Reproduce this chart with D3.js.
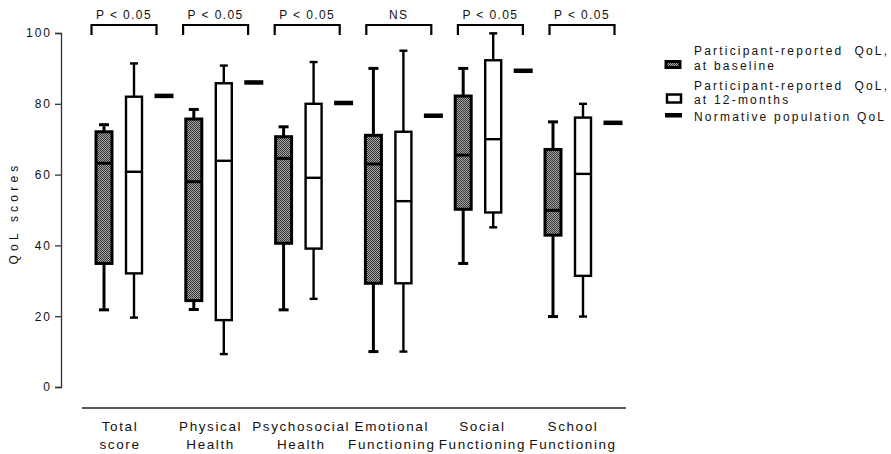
<!DOCTYPE html>
<html>
<head>
<meta charset="utf-8">
<script src="https://cdn.jsdelivr.net/npm/d3@7"></script>
<style>
  body { margin: 0; background: #fff; }
  text { font-family: "Liberation Sans", Arial, sans-serif; fill: #111; }
</style>
</head>
<body>
<svg id="chart" width="891" height="454"></svg>
<script>
// categories, two lines each
var categories = [
    ["Total", "score"],
    ["Physical", "Health"],
    ["Psychosocial", "Health"],
    ["Emotional", "Functioning"],
    ["Social", "Functioning"],
    ["School", "Functioning"]
];
// baseline box stats
var baseMin = [21.8, 21.9, 21.8, 10.0, 34.9, 19.9];
var baseQ1  = [34.9, 24.4, 40.6, 29.3, 50.2, 42.9];
var baseMed = [63.2, 58.0, 64.6, 63.0, 65.5, 49.9];
var baseQ3  = [72.1, 75.7, 70.7, 71.1, 82.2, 67.1];
var baseMax = [74.1, 78.4, 73.5, 90.0, 90.0, 74.9];
// 12-month box stats
var m12Min = [19.6,  9.3, 24.9, 10.0, 45.1, 19.9];
var m12Q1  = [32.1, 18.9, 39.1, 29.3, 49.3, 31.4];
var m12Med = [60.8, 63.9, 59.1, 52.5, 70.0, 60.2];
var m12Q3  = [82.0, 85.8, 80.0, 72.1, 92.3, 76.1];
var m12Max = [91.4, 90.8, 91.8, 95.0, 99.9, 80.0];
// normative population
var normValues = [82.3, 86.1, 80.3, 76.7, 89.4, 74.7];
var pLabels = ["P < 0.05", "P < 0.05", "P < 0.05", "NS", "P < 0.05", "P < 0.05"];
var yTicks = [0, 20, 40, 60, 80, 100];
var legendLabels = [
    ["Participant-reported  QoL,", "at baseline"],
    ["Participant-reported  QoL,", "at 12-months"],
    ["Normative population QoL"]
];

var svg = d3.select('#chart');
var idx = d3.range(categories.length);

var yScale = d3.scaleLinear().domain([0, 100]).range([387, 33]);
var xScale = d3.scalePoint().domain(idx).range([119, 568]);
var bracketScale = d3.scalePoint().domain(idx).range([124, 582]);
var labelScale = d3.scalePoint().domain(idx).range([120, 573]);

// stipple fill for the baseline boxes
var defs = svg.append('defs');
var pat = defs.append('pattern')
    .attr('id', 'stipple')
    .attr('width', 2).attr('height', 2)
    .attr('patternUnits', 'userSpaceOnUse');
pat.append('rect').attr('width', 2).attr('height', 2).attr('fill', '#a8a8a8');
pat.append('rect').attr('width', 1).attr('height', 1).attr('fill', '#333');
pat.append('rect').attr('x', 1).attr('y', 1).attr('width', 1).attr('height', 1).attr('fill', '#333');

// Y axis
var yAxis = d3.axisLeft(yScale).tickValues(yTicks).tickSize(6).tickPadding(3);
var gy = svg.append('g').attr('transform', 'translate(61,0)').call(yAxis);
gy.select('.domain').attr('stroke', '#333').attr('stroke-width', 1.3);
gy.selectAll('.tick line').attr('stroke', '#333').attr('stroke-width', 1.3);
gy.selectAll('.tick text')
    .style('font-size', '12px')
    .style('letter-spacing', '2px')
    .attr('fill', '#111');

svg.append('text')
    .attr('transform', 'translate(18,213) rotate(-90)')
    .attr('text-anchor', 'middle')
    .style('font-size', '12px')
    .style('letter-spacing', '4.2px')
    .text('QoL scores');

// X baseline
svg.append('line')
    .attr('x1', 82).attr('x2', 626)
    .attr('y1', 408).attr('y2', 408)
    .attr('stroke', '#222').attr('stroke-width', 1.4);

// category labels
var labels = svg.append('g').selectAll('text').data(idx).enter().append('text')
    .attr('x', function(i) { return labelScale(i); })
    .attr('y', 431)
    .attr('text-anchor', 'middle')
    .style('font-size', '13.5px')
    .style('letter-spacing', '1.6px');
labels.append('tspan').text(function(i) { return categories[i][0]; });
labels.append('tspan')
    .attr('x', function(i) { return labelScale(i); })
    .attr('dy', 18)
    .text(function(i) { return categories[i][1]; });

// draw one box plot
function drawBox(g, cx, mn, q1, med, q3, mx, opt) {
    var w = opt.width;
    // whiskers
    g.append('line')
        .attr('x1', cx).attr('x2', cx)
        .attr('y1', yScale(q3)).attr('y2', yScale(mx))
        .attr('stroke', '#000').attr('stroke-width', opt.whisker);
    g.append('line')
        .attr('x1', cx).attr('x2', cx)
        .attr('y1', yScale(q1)).attr('y2', yScale(mn))
        .attr('stroke', '#000').attr('stroke-width', opt.whisker);
    [mn, mx].forEach(function(v) {
        g.append('line')
            .attr('x1', cx - opt.cap / 2).attr('x2', cx + opt.cap / 2)
            .attr('y1', yScale(v)).attr('y2', yScale(v))
            .attr('stroke', '#000').attr('stroke-width', opt.whisker);
    });
    g.append('rect')
        .attr('x', cx - w / 2).attr('width', w)
        .attr('y', yScale(q3)).attr('height', yScale(q1) - yScale(q3))
        .attr('fill', opt.fill)
        .attr('stroke', '#000').attr('stroke-width', opt.stroke);
    g.append('line')
        .attr('x1', cx - w / 2).attr('x2', cx + w / 2)
        .attr('y1', yScale(med)).attr('y2', yScale(med))
        .attr('stroke', '#000').attr('stroke-width', opt.stroke);
}

var boxes = svg.append('g');
idx.forEach(function(i) {
    var cx = xScale(i);
    drawBox(boxes, cx - 15, baseMin[i], baseQ1[i], baseMed[i], baseQ3[i], baseMax[i],
        {width: 16, stroke: 3, whisker: 3, cap: 10, fill: 'url(#stipple)'});
    drawBox(boxes, cx + 15, m12Min[i], m12Q1[i], m12Med[i], m12Q3[i], m12Max[i],
        {width: 16, stroke: 2.4, whisker: 2.4, cap: 8, fill: '#fff'});
    // normative bar
    boxes.append('rect')
        .attr('x', cx + 45 - 9.5).attr('width', 19)
        .attr('y', yScale(normValues[i]) - 2).attr('height', 4.5)
        .attr('fill', '#000');
});

// significance brackets
var br = svg.append('g');
idx.forEach(function(i) {
    var c = bracketScale(i);
    br.append('path')
        .attr('d', 'M' + (c - 32.5) + ',35V25H' + (c + 32.5) + 'V35')
        .attr('fill', 'none').attr('stroke', '#000').attr('stroke-width', 2.2);
    br.append('text')
        .attr('x', c).attr('y', 19)
        .attr('text-anchor', 'middle')
        .style('font-size', '12px')
        .style('letter-spacing', '1.4px')
        .text(pLabels[i]);
});

// legend
var lg = svg.append('g');
lg.append('rect').attr('x', 666).attr('y', 61.5).attr('width', 14).attr('height', 6)
    .attr('fill', 'url(#stipple)').attr('stroke', '#000').attr('stroke-width', 3);
lg.append('rect').attr('x', 667).attr('y', 94.5).attr('width', 14).attr('height', 8)
    .attr('fill', '#fff').attr('stroke', '#000').attr('stroke-width', 2.5);
lg.append('rect').attr('x', 665).attr('y', 113).attr('width', 17).attr('height', 4.5)
    .attr('fill', '#000');
var legendY = [[55, 70], [90, 104], [121]];
legendLabels.forEach(function(lines, k) {
    lines.forEach(function(s, j) {
        lg.append('text')
            .attr('x', 694).attr('y', legendY[k][j])
            .style('font-size', '12px')
            .style('letter-spacing', '2.2px')
            .style('white-space', 'pre')
            .text(s);
    });
});
</script>
</body>
</html>
